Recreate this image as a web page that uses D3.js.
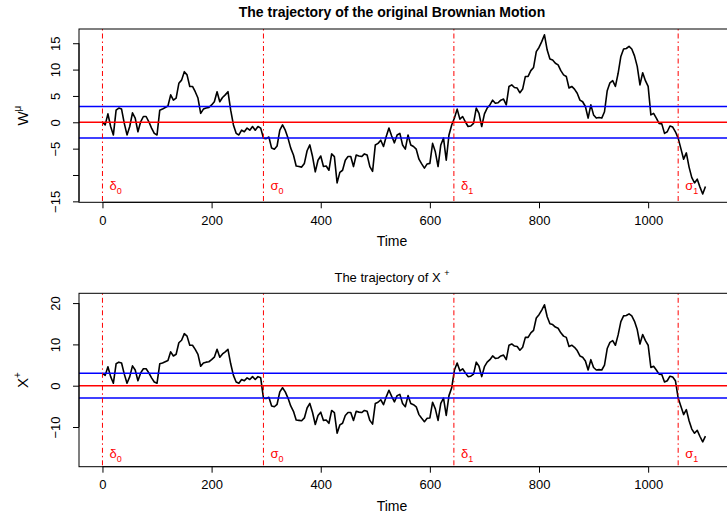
<!DOCTYPE html>
<html lang="en">
<head>
<meta charset="UTF-8" />
<title>Trajectory of Brownian Motion and X+</title>
<script src="https://d3js.org/d3.v7.min.js"></script>
<style>
  body { margin: 0; background: #fff; }
  svg { display: block; font-family: "Liberation Sans", Arial, sans-serif; }
  .tick text { font-size: 13px; fill: #000; }
  .tick line { stroke: #000; }
</style>
</head>
<body>
<svg id="chart" width="727" height="514"></svg>
<script>
const step = 5;
const wValues = [
  0.0, -0.5, 1.6, -0.8, -2.4, 2.3, 2.7, 2.5, -0.2, -2.4,
  -0.8, 1.8, 0.8, -1.8, 0.1, 1.1, 1.1, 0.1, -1.1, -2.1,
  -2.4, 2.3, 2.5, 2.8, 3.1, 5.2, 4.2, 4.6, 7.4, 8.0,
  9.6, 9.0, 6.8, 6.8, 5.8, 4.6, 1.7, 2.5, 2.7, 2.8,
  3.3, 3.9, 5.8, 3.9, 4.7, 5.2, 5.8, 2.3, -0.5, -2.1,
  -2.4, -1.5, -1.8, -1.1, -1.5, -0.8, -1.5, -0.8, -1.1, -3.0,
  -3.1, -2.8, -4.9, -5.1, -4.5, -1.5, -0.5, -1.5, -3.0, -4.9,
  -6.2, -8.3, -8.4, -8.5, -7.8, -5.4, -4.3, -6.5, -9.4, -7.2,
  -6.4, -8.4, -8.3, -9.1, -6.0, -6.5, -11.5, -9.5, -9.1, -7.2,
  -6.5, -6.5, -8.4, -6.2, -6.4, -6.5, -6.0, -6.2, -8.4, -9.3,
  -4.3, -4.0, -3.4, -4.6, -2.7, -1.1, -2.6, -3.9, -2.4, -2.1,
  -4.3, -5.1, -2.4, -4.3, -4.6, -5.1, -7.0, -7.9, -8.7, -7.9,
  -7.8, -4.0, -5.6, -8.4, -4.3, -3.0, -7.2, -2.4, -0.5, 0.8,
  2.5, 0.6, 1.1, 0.1, -0.8, -0.7, -0.2, 2.7, 1.7, -0.8,
  1.6, 2.7, 3.3, 4.2, 3.6, 3.7, 4.2, 4.4, 3.3, 6.8,
  7.1, 6.6, 6.5, 5.6, 6.3, 8.7, 8.7, 9.8, 10.4, 13.4,
  14.2, 15.3, 16.6, 13.7, 12.0, 11.8, 11.2, 10.9, 9.8, 9.0,
  8.7, 6.5, 6.8, 6.3, 5.5, 4.2, 3.9, 3.0, 0.8, 3.3,
  1.4, 0.8, 0.9, 0.8, 2.0, 6.0, 7.5, 7.9, 6.8, 9.3,
  12.5, 13.9, 14.0, 14.4, 13.9, 12.6, 10.6, 7.1, 9.4, 7.9,
  6.8, 1.4, 1.7, 0.8, -0.2, -0.3, -2.1, -1.8, -0.7, -0.9,
  -1.8, -3.0, -5.0, -7.0, -5.8, -8.5, -10.5, -11.5, -10.8, -12.3,
  -13.6, -12.2
];

// stopping times
const deltaTimes = [0, 644];
const sigmaTimes = [295, 1055];
const stopIndex = ["0", "1"];
const band = 3;

const xTicks = [0, 200, 400, 600, 800, 1000];
const topYTicks = [15, 10, 5, 0, -5, -10, -15];
const topYLabels = ["15", "10", "5", "0", "\u22125", "", "\u221215"];
const bottomYTicks = [20, 10, 0, -10];
const bottomYLabels = ["20", "10", "0", "\u221210"];

const times = wValues.map((d, i) => i * step);
// X+ = W shifted up by the band while between delta_k and sigma_k
const inExcursion = (t) => deltaTimes.some((d, k) => t >= d && t < sigmaTimes[k]);
const xPlusValues = wValues.map((w, i) => (inExcursion(times[i]) ? w + band : w));

const svg = d3.select("#chart");
svg.append("rect").attr("width", 727).attr("height", 514).attr("fill", "#fff");

const x = d3.scaleLinear().domain([-43, 1150]).range([79, 730]);

function drawPanel(p, id) {
  const y = d3.scaleLinear().domain(p.yDomain).range([p.bottom, p.top]);
  const g = svg.append("g");

  g.append("clipPath").attr("id", id)
    .append("rect")
    .attr("x", x.range()[0]).attr("y", p.top)
    .attr("width", x.range()[1] - x.range()[0]).attr("height", p.bottom - p.top);

  const plot = g.append("g").attr("clip-path", `url(#${id})`);

  // trajectory
  const line = d3.line().x((d, i) => x(times[i])).y((d) => y(d));
  plot.append("path")
    .datum(p.values)
    .attr("d", line)
    .attr("fill", "none")
    .attr("stroke", "#000")
    .attr("stroke-width", 1.6)
    .attr("stroke-linejoin", "round");

  // horizontal reference lines
  [band, -band].forEach((v) => {
    plot.append("line")
      .attr("x1", x.range()[0]).attr("x2", x.range()[1])
      .attr("y1", y(v)).attr("y2", y(v))
      .attr("stroke", "#0000ff").attr("stroke-width", 1.5);
  });
  plot.append("line")
    .attr("x1", x.range()[0]).attr("x2", x.range()[1])
    .attr("y1", y(0)).attr("y2", y(0))
    .attr("stroke", "#ff0000").attr("stroke-width", 1.5);

  // stopping time lines
  deltaTimes.concat(sigmaTimes).forEach((t) => {
    plot.append("line")
      .attr("x1", x(t)).attr("x2", x(t))
      .attr("y1", p.top).attr("y2", p.bottom)
      .attr("stroke", "#ff0000").attr("stroke-width", 1)
      .attr("stroke-dasharray", "1.5,3,5,3");
  });

  // labels of stopping times
  const marks = [];
  deltaTimes.forEach((t, k) => marks.push({ t, sym: "\u03b4", sub: stopIndex[k] }));
  sigmaTimes.forEach((t, k) => marks.push({ t, sym: "\u03c3", sub: stopIndex[k] }));
  marks.forEach((m) => {
    const tx = g.append("text")
      .attr("x", x(m.t) + 7).attr("y", y(p.labelY))
      .attr("fill", "#ff0000").style("font-size", "13px");
    tx.append("tspan").text(m.sym);
    tx.append("tspan").attr("dy", 4).style("font-size", "9px").text(m.sub);
  });

  // box
  g.append("rect")
    .attr("x", x.range()[0]).attr("y", p.top)
    .attr("width", x.range()[1] - x.range()[0]).attr("height", p.bottom - p.top)
    .attr("fill", "none").attr("stroke", "#000").attr("stroke-width", 1);

  // x axis
  const xa = g.append("g")
    .attr("transform", `translate(0,${p.bottom})`)
    .call(d3.axisBottom(x).tickValues(xTicks).tickSize(6).tickSizeOuter(0)
      .tickFormat(d3.format("d")));
  xa.select(".domain").remove();
  xa.selectAll(".tick text").attr("y", 13);
  xa.append("line")
    .attr("x1", x(xTicks[0])).attr("x2", x(xTicks[xTicks.length - 1]))
    .attr("stroke", "#000");

  g.append("text")
    .attr("x", 392).attr("y", p.bottom + 44)
    .attr("text-anchor", "middle").style("font-size", "14px")
    .text("Time");

  // y axis
  const ya = g.append("g")
    .attr("transform", `translate(${x.range()[0]},0)`)
    .call(d3.axisLeft(y).tickValues(p.yTicks).tickSize(6).tickSizeOuter(0)
      .tickFormat((d, i) => p.yLabels[i]));
  ya.select(".domain").remove();
  ya.selectAll(".tick text")
    .attr("x", 0).attr("y", -19).attr("dy", 0)
    .attr("transform", "rotate(-90)")
    .style("text-anchor", "middle");
  ya.append("line")
    .attr("y1", y(p.yTicks[0])).attr("y2", y(p.yTicks[p.yTicks.length - 1]))
    .attr("stroke", "#000");

  const yl = g.append("text")
    .attr("transform", `translate(28,${(p.top + p.bottom) / 2}) rotate(-90)`)
    .attr("text-anchor", "middle").style("font-size", "15px");
  yl.append("tspan").text(p.ylab);
  yl.append("tspan").attr("dy", -7).style("font-size", "10px").text(p.ylabSup);

  // title
  const tt = g.append("text")
    .attr("x", 392).attr("y", p.titleY)
    .attr("text-anchor", "middle")
    .style("font-size", p.titleBold ? "14px" : "13px")
    .style("font-weight", p.titleBold ? "bold" : "normal");
  tt.append("tspan").text(p.title);
  if (p.titleSup) tt.append("tspan").attr("dy", -6).style("font-size", "9px").text(p.titleSup);
}

drawPanel({
  top: 29, bottom: 202.3, yDomain: [-15.18, 17.7],
  yTicks: topYTicks, yLabels: topYLabels,
  values: wValues, labelY: -12.8,
  ylab: "W", ylabSup: "\u03bc",
  title: "The trajectory of the original Brownian Motion", titleBold: true, titleY: 17
}, "clipTop");

drawPanel({
  top: 293.3, bottom: 466.7, yDomain: [-19.61, 22.37],
  yTicks: bottomYTicks, yLabels: bottomYLabels,
  values: xPlusValues, labelY: -17.4,
  ylab: "X", ylabSup: "+",
  title: "The trajectory of X ", titleSup: "+", titleBold: false, titleY: 282
}, "clipBottom");
</script>
</body>
</html>
